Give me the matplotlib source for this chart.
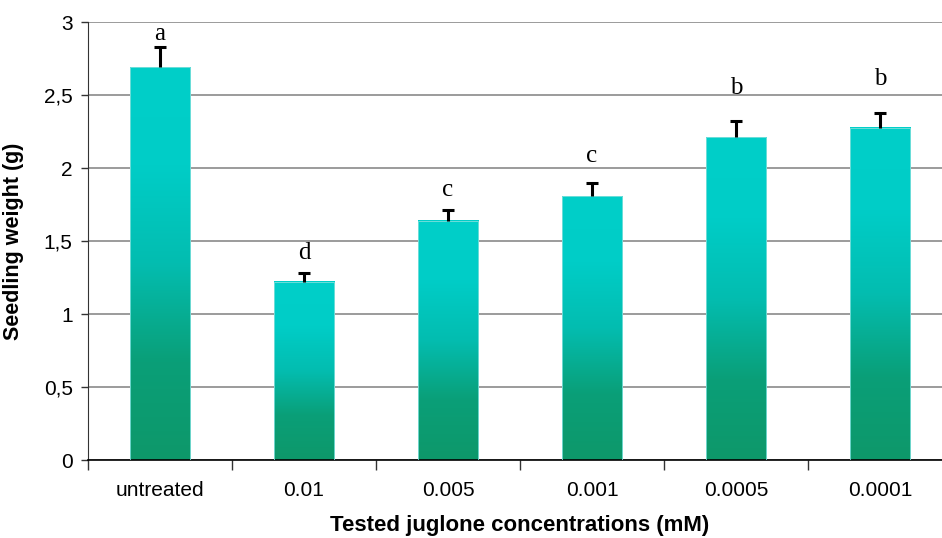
import numpy as np
import matplotlib
matplotlib.use("Agg")
import matplotlib.pyplot as plt
from matplotlib.colors import LinearSegmentedColormap
from matplotlib.ticker import FuncFormatter

# datos
categorias = ["untreated", "0.01", "0.005", "0.001", "0.0005", "0.0001"]
peso = [2.69, 1.22, 1.637, 1.808, 2.21, 2.276]
error = [0.137, 0.062, 0.073, 0.087, 0.11, 0.104]
letras = ["a", "d", "c", "c", "b", "b"]
altura_letra = [2.915, 1.42, 1.85, 2.08, 2.55, 2.61]

plt.rcParams['font.family'] = ['Liberation Sans', 'DejaVu Sans']

fig = plt.figure(figsize=(9.42, 5.38), dpi=100)
ax = fig.add_axes([88/942, 1 - 460/538, (952 - 88)/942, (460 - 22)/538])

x = np.arange(len(categorias))
ancho = 0.42
barras = ax.bar(x, peso, width=ancho, color="none", edgecolor="#7fe0dc", linewidth=0.6, zorder=3)

# degradado vertical en cada barra
cmap = LinearSegmentedColormap.from_list("verde", ["#0e986a", "#0a9f78", "#03bdb0", "#00cdc7", "#00cfc9"])
grad = np.linspace(0, 1, 256).reshape(-1, 1)
for b in barras:
    x0 = b.get_x()
    ax.imshow(grad, cmap=cmap, origin="lower", aspect="auto",
              extent=(x0, x0 + b.get_width(), 0, b.get_height()), zorder=2.5)

# barras de error solo hacia arriba
tope = np.array(peso) + np.array(error)
ax.vlines(x, peso, tope, color="black", linewidth=2.2, zorder=4)
ax.hlines(tope, x - 0.045, x + 0.045, color="black", linewidth=2.2, zorder=4)

for xi, l, h in zip(x, letras, altura_letra):
    ax.text(xi, h, l, ha="center", va="center", fontsize=18, family="Liberation Serif", zorder=5)

ax.set_xlim(-0.5, len(categorias) - 0.5)
ax.set_ylim(0, 3)
ax.set_yticks(np.arange(0, 3.01, 0.5))
ax.yaxis.set_major_formatter(FuncFormatter(lambda v, p: ("%g" % v).replace(".", ",")))
ax.yaxis.grid(True, color="#808080", linewidth=1.1, zorder=0)
ax.set_axisbelow(True)

ax.set_xticks(x)
ax.set_xticklabels(categorias)
ax.set_xticks(np.arange(-0.5, len(categorias), 1), minor=True)
ax.tick_params(axis="x", which="major", length=0, pad=15, labelsize=15)
ax.tick_params(axis="x", which="minor", length=7, width=1, color="#333333", direction="out")
ax.tick_params(axis="y", length=5, width=1, color="#333333", labelsize=15, pad=6)

for s in ["top", "right"]:
    ax.spines[s].set_visible(False)
ax.spines["left"].set_color("#333333")
ax.spines["bottom"].set_color("black")
ax.spines["bottom"].set_linewidth(1.2)

ax.set_xlabel("Tested juglone concentrations (mM)", fontsize=16, fontweight="bold", labelpad=11)
ax.set_ylabel("Seedling weight (g)", fontsize=15.5, fontweight="bold", labelpad=14)

fig.savefig("out.png", dpi=100)
